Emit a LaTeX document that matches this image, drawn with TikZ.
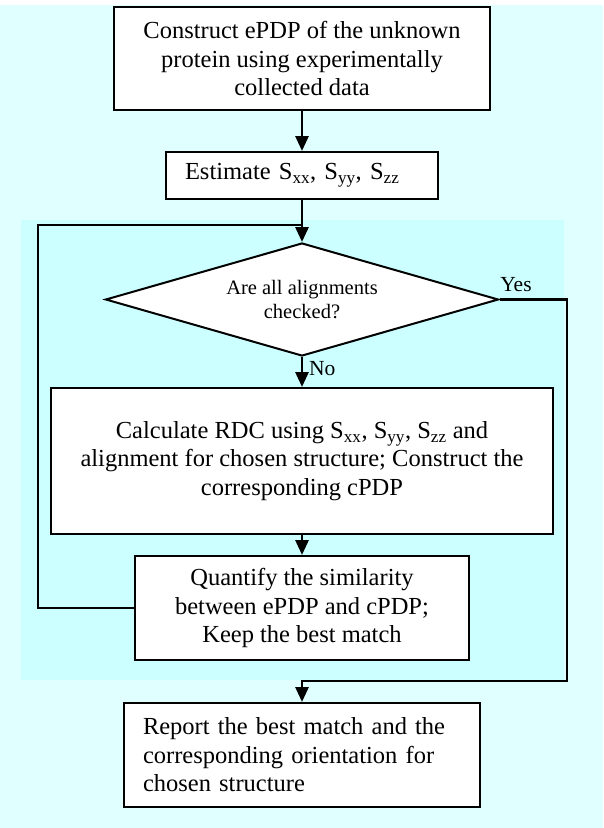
\documentclass[tikz,border=0pt]{standalone}
\usepackage{fontspec}
\setmainfont{Liberation Serif}
\usetikzlibrary{shapes.geometric,arrows.meta}
\definecolor{outerbg}{RGB}{224,255,255}
\definecolor{innerbg}{RGB}{204,255,255}
\begin{document}
\begin{tikzpicture}[x=1pt,y=-1pt,
  box/.style={draw=black,line width=2pt,fill=white,inner sep=0pt,font=\fontsize{24.5}{28.5}\selectfont},
  cbox/.style={box,align=center},
  lbox/.style={box,align=left,inner xsep=19pt},
  conn/.style={line width=2.8pt},
  arr/.style={conn,-{Triangle[length=15pt,width=13pt]}},
  lbl/.style={font=\fontsize{21.5}{24}\selectfont,inner sep=0pt}
]
\fill[white] (0,0) rectangle (603,828);
\useasboundingbox (0,0) rectangle (603,828);
\fill[outerbg] (0,5) rectangle (603,828);
\fill[innerbg] (21,220) rectangle (564,680);

\node[cbox,minimum width=376pt,minimum height=103pt] (construct) at (302,58.5)
  {Construct ePDP of the unknown\\protein using experimentally\\collected data};
\node[lbox,text width=234pt,minimum height=47pt] (estimate) at (302,175.5)
  {Estimate S\textsubscript{xx}, S\textsubscript{yy}, S\textsubscript{zz}};
\node[draw=black,line width=2pt,fill=white,diamond,shape aspect=3.48,
  minimum width=393pt,minimum height=113pt,inner sep=0pt,align=center,
  font=\fontsize{20.5}{24}\selectfont] (check) at (302,299.5)
  {Are all alignments\\checked?};
\node[cbox,minimum width=502pt,minimum height=146pt] (calc) at (302,461)
  {Calculate RDC using S\textsubscript{xx}, S\textsubscript{yy}, S\textsubscript{zz} and\\alignment for chosen structure; Construct the\\corresponding cPDP};
\node[cbox,minimum width=334pt,minimum height=104pt] (quant) at (302,608)
  {Quantify the similarity\\between ePDP and cPDP;\\Keep the best match};
\node[lbox,text width=318pt,minimum height=104pt] (report) at (302,755)
  {Report the best match and the\\corresponding orientation for\\chosen structure};

\coordinate (jn) at (302,225);
\coordinate (loopcorner) at (38,225);
\coordinate (yescorner) at (567,681);

\draw[arr] (construct.south) -- (estimate.north);
\draw[arr] (estimate.south) -- (check.north);
\draw[conn] (quant.west) -| (loopcorner) -- (jn);
\draw[arr] (check.south) -- (calc.north);
\draw[arr] (calc.south) -- (quant.north);
\draw[arr] (check.east) -| (yescorner) -| (report.north);

\node[lbl,anchor=west] (nolbl) at (309,369) {No};
\node[lbl] (yeslbl) at (516,285) {Yes};
\end{tikzpicture}
\end{document}
